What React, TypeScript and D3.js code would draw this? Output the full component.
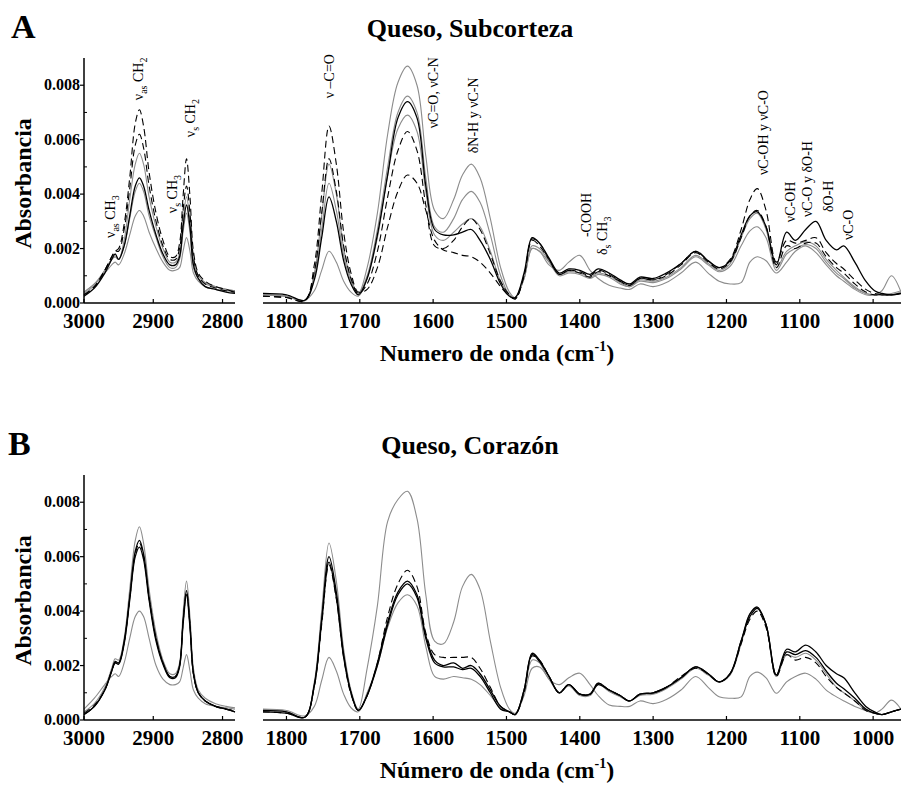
import React from 'react';
import * as d3 from 'd3';

const FONT = "'Liberation Serif', 'Times New Roman', serif";
const W = 901;
const H = 785;
const PANEL_SHIFT = 417;

// ---------- axes / ticks ----------
const CH_DOMAIN = [3000, 2782];
const FP_DOMAIN = [1832, 962];
const Y_MAX = 0.009;
const CH_TICKS = [3000, 2900, 2800];
const FP_TICKS = [1800, 1700, 1600, 1500, 1400, 1300, 1200, 1100, 1000];
const Y_TICKS = [0, 0.002, 0.004, 0.006, 0.008];
const Y_MINOR = [0.001, 0.003, 0.005, 0.007];

// ---------- wavenumber grids (cm-1) ----------
const WN_CH = [3000, 2985, 2970, 2960, 2955, 2950, 2942, 2934, 2926, 2920, 2914, 2906, 2896, 2886, 2876, 2868, 2862, 2857, 2852, 2847, 2842, 2835, 2825, 2810, 2795, 2782];
const WN_FP = [1832, 1800, 1775, 1762, 1752, 1742, 1732, 1722, 1712, 1702, 1690, 1676, 1662, 1648, 1635, 1622, 1610, 1598, 1586, 1572, 1560, 1548, 1536, 1522, 1508, 1496, 1488, 1476, 1465, 1455, 1442, 1428, 1415, 1400, 1386, 1375, 1360, 1345, 1332, 1318, 1300, 1282, 1262, 1242, 1225, 1210, 1195, 1180, 1168, 1158, 1146, 1132, 1118, 1106, 1092, 1078, 1064, 1050, 1040, 1025, 1010, 998, 988, 975, 962];

// absorbance values in units of 0.001
// ---------- Panel A: Queso, Subcorteza ----------
const subDashHighCH = [0.3, 0.6, 1.2, 1.7, 1.9, 2.0, 2.9, 4.6, 6.6, 7.1, 6.5, 4.8, 3.3, 2.3, 1.7, 1.7, 2.2, 3.9, 5.3, 3.9, 1.9, 1.1, 0.8, 0.6, 0.5, 0.4];
const subDashMidCH = [0.3, 0.6, 1.2, 1.7, 1.9, 1.9, 2.7, 4.2, 5.8, 6.2, 5.7, 4.3, 3.0, 2.1, 1.6, 1.6, 2.0, 3.4, 4.3, 3.3, 1.7, 1.0, 0.7, 0.55, 0.45, 0.4];
const subBlackCH = [0.25, 0.55, 1.1, 1.6, 1.8, 1.6, 2.1, 3.2, 4.3, 4.6, 4.3, 3.4, 2.5, 1.8, 1.4, 1.4, 1.7, 2.8, 3.6, 2.8, 1.4, 0.9, 0.6, 0.5, 0.4, 0.35];
const subGrayMidCH = [0.35, 0.65, 1.2, 1.6, 1.7, 1.6, 2.3, 3.8, 5.1, 5.5, 5.1, 3.9, 2.8, 2.0, 1.5, 1.5, 1.8, 3.0, 3.9, 3.0, 1.6, 1.0, 0.75, 0.6, 0.5, 0.45];
const subGrayTopCH = [0.4, 0.7, 1.2, 1.6, 1.7, 1.6, 2.1, 3.1, 4.1, 4.4, 4.1, 3.2, 2.4, 1.7, 1.3, 1.3, 1.6, 2.6, 3.3, 2.6, 1.3, 0.9, 0.7, 0.6, 0.5, 0.45];
const subGrayLowCH = [0.4, 0.7, 1.1, 1.4, 1.5, 1.4, 1.8, 2.5, 3.2, 3.4, 3.2, 2.6, 2.0, 1.5, 1.2, 1.2, 1.3, 1.9, 2.4, 1.9, 1.1, 0.8, 0.6, 0.5, 0.45, 0.4];

const subDashHighFP = [0.25, 0.2, 0.08, 1.4, 4.0, 6.5, 5.1, 2.6, 1.1, 0.4,
  0.5, 1.3, 2.8, 4.1, 4.7, 4.4, 3.4, 2.3, 1.95, 1.85,
  1.75, 1.7, 1.5, 1.1, 0.6, 0.25, 0.15, 1.0, 2.35, 2.2,
  1.6, 1.05, 1.2, 1.1, 0.95, 1.15, 1.0, 0.8, 0.65, 0.9,
  0.85, 1.05, 1.45, 1.9, 1.55, 1.3, 1.6, 2.7, 3.8, 4.2,
  3.4, 1.5, 2.3, 2.2, 2.3, 2.4, 1.85, 1.45, 1.25, 0.85,
  0.5, 0.35, 0.3, 0.3, 0.35];
const subDashMidFP = [0.25, 0.2, 0.08, 1.15, 3.3, 5.3, 4.1, 2.1, 0.9, 0.35,
  0.7, 1.9, 3.9, 5.6, 6.3, 5.6, 3.6, 2.1, 2.0, 2.3,
  2.8, 3.1, 2.7, 1.8, 0.8, 0.3, 0.15, 1.0, 2.3, 2.1,
  1.6, 1.05, 1.2, 1.15, 1.0, 1.2, 1.05, 0.8, 0.65, 0.9,
  0.85, 1.0, 1.4, 1.85, 1.5, 1.25, 1.5, 2.4, 3.2, 3.4,
  2.8, 1.3, 2.1, 2.0, 2.2, 2.2, 1.7, 1.3, 1.1, 0.7,
  0.4, 0.3, 0.3, 0.3, 0.35];
const subBlackFP = [0.35, 0.3, 0.1, 0.85, 2.4, 3.9, 3.0, 1.55, 0.7, 0.3,
  0.9, 2.5, 4.7, 6.8, 7.4, 6.8, 4.3, 2.7, 2.5, 2.5,
  2.6, 2.7, 2.3, 1.6, 0.7, 0.25, 0.2, 1.1, 2.4, 2.2,
  1.65, 1.1, 1.25, 1.2, 1.05, 1.25, 1.1, 0.85, 0.7, 0.95,
  0.9, 1.1, 1.45, 1.9, 1.55, 1.3, 1.55, 2.5, 3.2, 3.35,
  2.8, 1.4, 2.6, 2.3, 2.7, 3.0, 2.3, 1.95, 2.1, 1.5,
  0.8, 0.45, 0.35, 0.3, 0.35];
const subGrayMidFP = [0.3, 0.25, 0.08, 1.1, 3.2, 5.1, 4.0, 2.0, 0.9, 0.35,
  1.0, 2.7, 5.0, 7.0, 7.6, 7.0, 4.6, 2.8, 2.6, 3.1,
  3.8, 4.1, 3.7, 2.5, 1.0, 0.3, 0.2, 1.0, 2.1, 2.0,
  1.55, 1.05, 1.15, 1.1, 0.95, 1.1, 1.0, 0.75, 0.6, 0.85,
  0.8, 0.95, 1.3, 1.75, 1.45, 1.2, 1.45, 2.4, 3.1, 3.3,
  2.7, 1.3, 1.9, 2.1, 2.25, 2.1, 1.6, 1.2, 0.95, 0.6,
  0.35, 0.3, 0.3, 0.3, 0.4];
const subGrayTopFP = [0.3, 0.25, 0.1, 0.95, 2.7, 4.4, 3.4, 1.75, 0.8, 0.35,
  1.3, 3.3, 6.2, 8.1, 8.7, 8.0, 5.4, 3.4, 3.1, 3.8,
  4.7, 5.1, 4.6, 3.1, 1.3, 0.4, 0.2, 0.9, 2.0, 1.9,
  1.5, 1.0, 1.1, 1.05, 0.9, 1.05, 0.95, 0.7, 0.6, 0.8,
  0.75, 0.9, 1.25, 1.7, 1.4, 1.15, 1.35, 2.1, 2.65, 2.8,
  2.4, 1.2, 1.8, 2.0, 2.15, 2.0, 1.5, 1.1, 0.9, 0.55,
  0.35, 0.3, 0.3, 0.35, 0.45];
const subGrayLowFP = [0.3, 0.25, 0.1, 0.45, 1.2, 1.9, 1.5, 0.8, 0.4, 0.25,
  0.9, 2.4, 4.7, 6.4, 6.9, 6.3, 4.1, 2.5, 2.3, 2.6,
  2.9, 3.1, 2.8, 1.9, 0.8, 0.3, 0.2, 0.9, 2.0, 1.9,
  1.4, 1.2, 1.5, 1.75, 1.2, 0.9, 0.65, 0.55, 0.5, 0.7,
  0.6, 0.75, 1.1, 1.5, 1.1, 0.8, 0.7, 0.75, 1.5, 1.7,
  1.55, 1.1, 1.5, 1.9, 2.1, 1.85, 1.4, 1.0, 0.8, 0.5,
  0.3, 0.3, 0.45, 1.0, 0.4];

// ---------- Panel B: Queso, Corazón ----------
const corGrayTopCH = [0.3, 0.6, 1.2, 1.9, 2.25, 2.2, 3.0, 4.8, 6.6, 7.1, 6.5, 4.8, 3.2, 2.2, 1.7, 1.7, 2.1, 3.9, 5.1, 3.8, 1.9, 1.1, 0.8, 0.6, 0.5, 0.45];
const corBlack1CH = [0.2, 0.5, 1.1, 1.8, 2.15, 2.1, 2.9, 4.5, 6.2, 6.6, 6.1, 4.5, 3.0, 2.1, 1.6, 1.6, 2.0, 3.6, 4.75, 3.5, 1.7, 1.0, 0.7, 0.5, 0.4, 0.3];
const corBlack2CH = [0.2, 0.5, 1.1, 1.8, 2.1, 2.05, 2.8, 4.4, 6.0, 6.35, 5.9, 4.4, 2.9, 2.05, 1.55, 1.55, 1.95, 3.5, 4.6, 3.4, 1.7, 1.0, 0.7, 0.5, 0.4, 0.3];
const corDashCH = [0.25, 0.55, 1.1, 1.8, 2.1, 2.1, 2.85, 4.45, 6.1, 6.5, 6.0, 4.5, 3.0, 2.1, 1.6, 1.6, 2.0, 3.6, 4.7, 3.5, 1.7, 1.0, 0.7, 0.5, 0.4, 0.35];
const corGrayLowCH = [0.4, 0.8, 1.3, 1.6, 1.7, 1.6, 2.1, 3.0, 3.8, 4.0, 3.8, 3.0, 2.0, 1.5, 1.3, 1.3, 1.4, 1.9, 2.4, 1.8, 1.1, 0.8, 0.6, 0.5, 0.45, 0.4];

const corGrayTopFP = [0.35, 0.3, 0.1, 1.4, 4.0, 6.5, 5.1, 2.6, 1.1, 0.4,
  1.9, 4.2, 7.3, 8.1, 8.4, 7.4, 4.6, 2.9, 2.8, 3.6,
  4.9, 5.35, 4.8, 2.9, 1.2, 0.4, 0.25, 0.9, 1.9, 1.95,
  1.5, 1.0, 1.25, 0.9, 0.9, 1.3, 1.05, 0.85, 0.7, 0.9,
  0.95, 1.15, 1.5, 1.9, 1.65, 1.4, 1.65, 2.8, 3.9, 4.1,
  3.5, 1.6, 2.4, 2.3, 2.45, 2.2, 1.7, 1.2, 1.0, 0.7,
  0.35, 0.25, 0.2, 0.3, 0.4];
const corBlack1FP = [0.3, 0.25, 0.1, 1.3, 3.7, 6.0, 4.7, 2.4, 1.0, 0.35,
  0.9, 2.1, 3.6, 4.7, 5.1, 4.6, 3.1, 2.2, 2.0, 2.1,
  1.9, 2.0, 1.7, 1.1, 0.5, 0.3, 0.2, 1.1, 2.45, 2.2,
  1.6, 1.0, 1.3, 0.95, 0.95, 1.35, 1.1, 0.9, 0.7, 0.95,
  1.0, 1.2, 1.55, 1.95, 1.7, 1.4, 1.7, 2.9, 3.9, 4.15,
  3.5, 1.65, 2.6, 2.5, 2.75, 2.5, 2.0, 1.7, 1.55, 1.0,
  0.5, 0.3, 0.2, 0.3, 0.4];
const corBlack2FP = [0.35, 0.3, 0.1, 1.25, 3.6, 5.8, 4.5, 2.3, 1.0, 0.35,
  0.9, 2.0, 3.5, 4.6, 5.0, 4.5, 3.0, 2.1, 1.95, 1.95,
  1.85, 1.9, 1.6, 1.0, 0.4, 0.3, 0.2, 1.1, 2.4, 2.15,
  1.6, 1.0, 1.3, 0.95, 0.95, 1.3, 1.1, 0.9, 0.7, 0.95,
  1.0, 1.2, 1.55, 1.95, 1.7, 1.4, 1.7, 2.9, 3.8, 4.1,
  3.5, 1.65, 2.5, 2.4, 2.55, 2.3, 1.8, 1.35, 1.15, 0.8,
  0.4, 0.25, 0.2, 0.3, 0.4];
const corDashFP = [0.3, 0.25, 0.1, 1.25, 3.5, 5.7, 4.45, 2.3, 0.95, 0.35,
  0.9, 2.1, 3.8, 5.0, 5.5, 4.9, 3.2, 2.4, 2.3, 2.3,
  2.3, 2.3, 1.9, 1.2, 0.5, 0.3, 0.2, 1.0, 2.35, 2.2,
  1.6, 1.0, 1.3, 0.95, 0.95, 1.35, 1.1, 0.9, 0.7, 0.95,
  1.0, 1.2, 1.6, 1.9, 1.7, 1.4, 1.7, 2.8, 3.7, 4.0,
  3.4, 1.6, 2.4, 2.2, 2.3, 2.1, 1.6, 1.2, 1.0, 0.7,
  0.35, 0.25, 0.2, 0.3, 0.4];
const corGrayLowFP = [0.4, 0.35, 0.15, 0.5, 1.45, 2.3, 1.8, 0.95, 0.45, 0.3,
  1.0, 2.0, 3.4, 4.3, 4.6, 4.2, 2.7, 1.6, 1.5, 1.6,
  1.55, 1.5, 1.3, 0.9, 0.45, 0.3, 0.2, 1.0, 2.2, 2.1,
  1.5, 1.3, 1.55, 1.72, 1.3, 0.9, 0.55, 0.5, 0.5, 0.7,
  0.6, 0.75, 1.1, 1.6, 1.2, 0.85, 0.8, 0.85, 1.6, 1.76,
  1.55, 0.98, 1.4, 1.6, 1.72, 1.5, 1.1, 0.85, 0.7, 0.5,
  0.35, 0.25, 0.4, 0.73, 0.4];

// ---------- band assignments (panel A) ----------
type Part = { t: string; sub?: boolean };
type Annot = { region: 'ch' | 'fp'; wn: number; a: number; parts: Part[] };
const ANNOT_A: Annot[] = [
  { region: 'ch', wn: 2962, a: 0.00239, parts: [{ t: 'ν' }, { t: 'as', sub: true }, { t: ' CH' }, { t: '3', sub: true }] },
  { region: 'ch', wn: 2922, a: 0.00745, parts: [{ t: 'ν' }, { t: 'as', sub: true }, { t: ' CH' }, { t: '2', sub: true }] },
  { region: 'ch', wn: 2873, a: 0.0033, parts: [{ t: 'ν' }, { t: 's', sub: true }, { t: ' CH' }, { t: '3', sub: true }] },
  { region: 'ch', wn: 2847, a: 0.00609, parts: [{ t: 'ν' }, { t: 's', sub: true }, { t: ' CH' }, { t: '2', sub: true }] },
  { region: 'fp', wn: 1742, a: 0.00752, parts: [{ t: 'ν –C=O' }] },
  { region: 'fp', wn: 1600, a: 0.00642, parts: [{ t: 'νC=O, νC-N' }] },
  { region: 'fp', wn: 1546, a: 0.0055, parts: [{ t: 'δN-H y νC-N' }] },
  { region: 'fp', wn: 1392, a: 0.00242, parts: [{ t: '-COOH' }] },
  { region: 'fp', wn: 1370, a: 0.00176, parts: [{ t: 'δ' }, { t: 's', sub: true }, { t: ' CH' }, { t: '3', sub: true }] },
  { region: 'fp', wn: 1150, a: 0.0047, parts: [{ t: 'νC-OH y νC-O' }] },
  { region: 'fp', wn: 1113, a: 0.00297, parts: [{ t: 'νC-OH' }] },
  { region: 'fp', wn: 1090, a: 0.00316, parts: [{ t: 'νC-O y δO-H' }] },
  { region: 'fp', wn: 1062, a: 0.00334, parts: [{ t: 'δO-H' }] },
  { region: 'fp', wn: 1034, a: 0.00231, parts: [{ t: 'νC-O' }] },
];

type Kind = 'black' | 'dash' | 'gray';
type Series = { ch: number[]; fp: number[]; kind: Kind };

const SERIES_A: Series[] = [
  { ch: subGrayTopCH, fp: subGrayTopFP, kind: 'gray' },
  { ch: subGrayMidCH, fp: subGrayMidFP, kind: 'gray' },
  { ch: subGrayLowCH, fp: subGrayLowFP, kind: 'gray' },
  { ch: subDashHighCH, fp: subDashHighFP, kind: 'dash' },
  { ch: subDashMidCH, fp: subDashMidFP, kind: 'dash' },
  { ch: subBlackCH, fp: subBlackFP, kind: 'black' },
];
const SERIES_B: Series[] = [
  { ch: corGrayTopCH, fp: corGrayTopFP, kind: 'gray' },
  { ch: corGrayLowCH, fp: corGrayLowFP, kind: 'gray' },
  { ch: corDashCH, fp: corDashFP, kind: 'dash' },
  { ch: corBlack2CH, fp: corBlack2FP, kind: 'black' },
  { ch: corBlack1CH, fp: corBlack1FP, kind: 'black' },
];

const xCH = d3.scaleLinear().domain(CH_DOMAIN).range([84, 235]);
const xFP = d3.scaleLinear().domain(FP_DOMAIN).range([263, 901]);
const yS = d3.scaleLinear().domain([0, Y_MAX]).range([303, 58]);
const MILLI = 0.001;

const styleFor = (k: Kind) =>
  k === 'black'
    ? { stroke: '#000', strokeWidth: 1.3 }
    : k === 'dash'
    ? { stroke: '#000', strokeWidth: 1.1, strokeDasharray: '7 4' }
    : { stroke: '#8c8c8c', strokeWidth: 1.1 };

function linePath(wn: number[], vals: number[], x: d3.ScaleLinear<number, number>) {
  const gen = d3
    .line<number>()
    .x((_, i) => x(wn[i]))
    .y((d) => yS(d * MILLI))
    .curve(d3.curveCatmullRom.alpha(0.5));
  return gen(vals) || '';
}

function Panel({ shift, label, title, xTitle, series, annots }: {
  shift: number; label: string; title: string; xTitle: string; series: Series[]; annots: Annot[];
}) {
  const axisY = yS(0);
  return (
    <g transform={`translate(0,${shift})`}>
      <text x={label === 'A' ? 11 : 8} y={38} fontSize={34} fontWeight="bold" fontFamily={FONT}>{label}</text>
      <text x={470} y={37} fontSize={26} fontWeight="bold" fontFamily={FONT} textAnchor="middle">{title}</text>

      {/* curves */}
      {series.map((s, i) => (
        <g key={i} fill="none" {...styleFor(s.kind)}>
          <path d={linePath(WN_CH, s.ch, xCH)} />
          <path d={linePath(WN_FP, s.fp, xFP)} />
        </g>
      ))}

      {/* axes */}
      <line x1={xCH.range()[0]} x2={xCH.range()[0]} y1={yS(Y_MAX)} y2={axisY} stroke="#000" strokeWidth={1.5} />
      <line x1={xCH.range()[0]} x2={xCH.range()[1]} y1={axisY} y2={axisY} stroke="#000" strokeWidth={1.5} />
      <line x1={xFP.range()[0]} x2={xFP.range()[1]} y1={axisY} y2={axisY} stroke="#000" strokeWidth={1.5} />
      {Y_TICKS.map((t) => (
        <g key={t}>
          <line x1={xCH.range()[0] - 4} x2={xCH.range()[0]} y1={yS(t)} y2={yS(t)} stroke="#000" strokeWidth={1.2} />
          <text x={80} y={yS(t) + 5} fontSize={16} fontWeight="bold" fontFamily={FONT} textAnchor="end">{d3.format('.3f')(t)}</text>
        </g>
      ))}
      {Y_MINOR.map((t) => (
        <line key={t} x1={xCH.range()[0]} x2={xCH.range()[0] + 3} y1={yS(t)} y2={yS(t)} stroke="#000" strokeWidth={1} />
      ))}
      {CH_TICKS.map((t) => (
        <g key={t}>
          <line x1={xCH(t)} x2={xCH(t)} y1={axisY} y2={axisY - 4} stroke="#000" strokeWidth={1.2} />
          <text x={xCH(t)} y={axisY + 25} fontSize={21} fontWeight="bold" fontFamily={FONT} textAnchor="middle">{t}</text>
        </g>
      ))}
      {FP_TICKS.map((t) => (
        <g key={t}>
          <line x1={xFP(t)} x2={xFP(t)} y1={axisY} y2={axisY - 4} stroke="#000" strokeWidth={1.2} />
          <text x={xFP(t)} y={axisY + 25} fontSize={21} fontWeight="bold" fontFamily={FONT} textAnchor="middle">{t}</text>
        </g>
      ))}

      <text transform={`translate(31,${(yS(0) + yS(Y_MAX)) / 2 + 3}) rotate(-90)`} fontSize={24} fontWeight="bold" fontFamily={FONT} textAnchor="middle">Absorbancia</text>

      <text x={497} y={axisY + 58} fontSize={24} fontWeight="bold" fontFamily={FONT} textAnchor="middle">
        {xTitle}
        <tspan fontSize={14} dy={-10}>-1</tspan>
        <tspan dy={10}>)</tspan>
      </text>

      {annots.map((a, i) => {
        const x = a.region === 'ch' ? xCH(a.wn) : xFP(a.wn);
        return (
          <text key={i} transform={`translate(${x},${yS(a.a)}) rotate(-90)`} fontSize={14} fontFamily={FONT} dominantBaseline="central">
            {a.parts.map((p, j) =>
              p.sub ? (
                <tspan key={j} fontSize={10} baselineShift="sub">{p.t}</tspan>
              ) : (
                <tspan key={j}>{p.t}</tspan>
              )
            )}
          </text>
        );
      })}
    </g>
  );
}

export default function App() {
  return (
    <svg width={W} height={H} style={{ position: 'absolute', left: 0, top: 0, background: '#fff' }}>
      <rect width={W} height={H} fill="#fff" />
      <Panel shift={0} label="A" title="Queso, Subcorteza" xTitle="Numero de onda (cm" series={SERIES_A} annots={ANNOT_A} />
      <Panel shift={PANEL_SHIFT} label="B" title="Queso, Corazón" xTitle="Número de onda (cm" series={SERIES_B} annots={[]} />
    </svg>
  );
}
